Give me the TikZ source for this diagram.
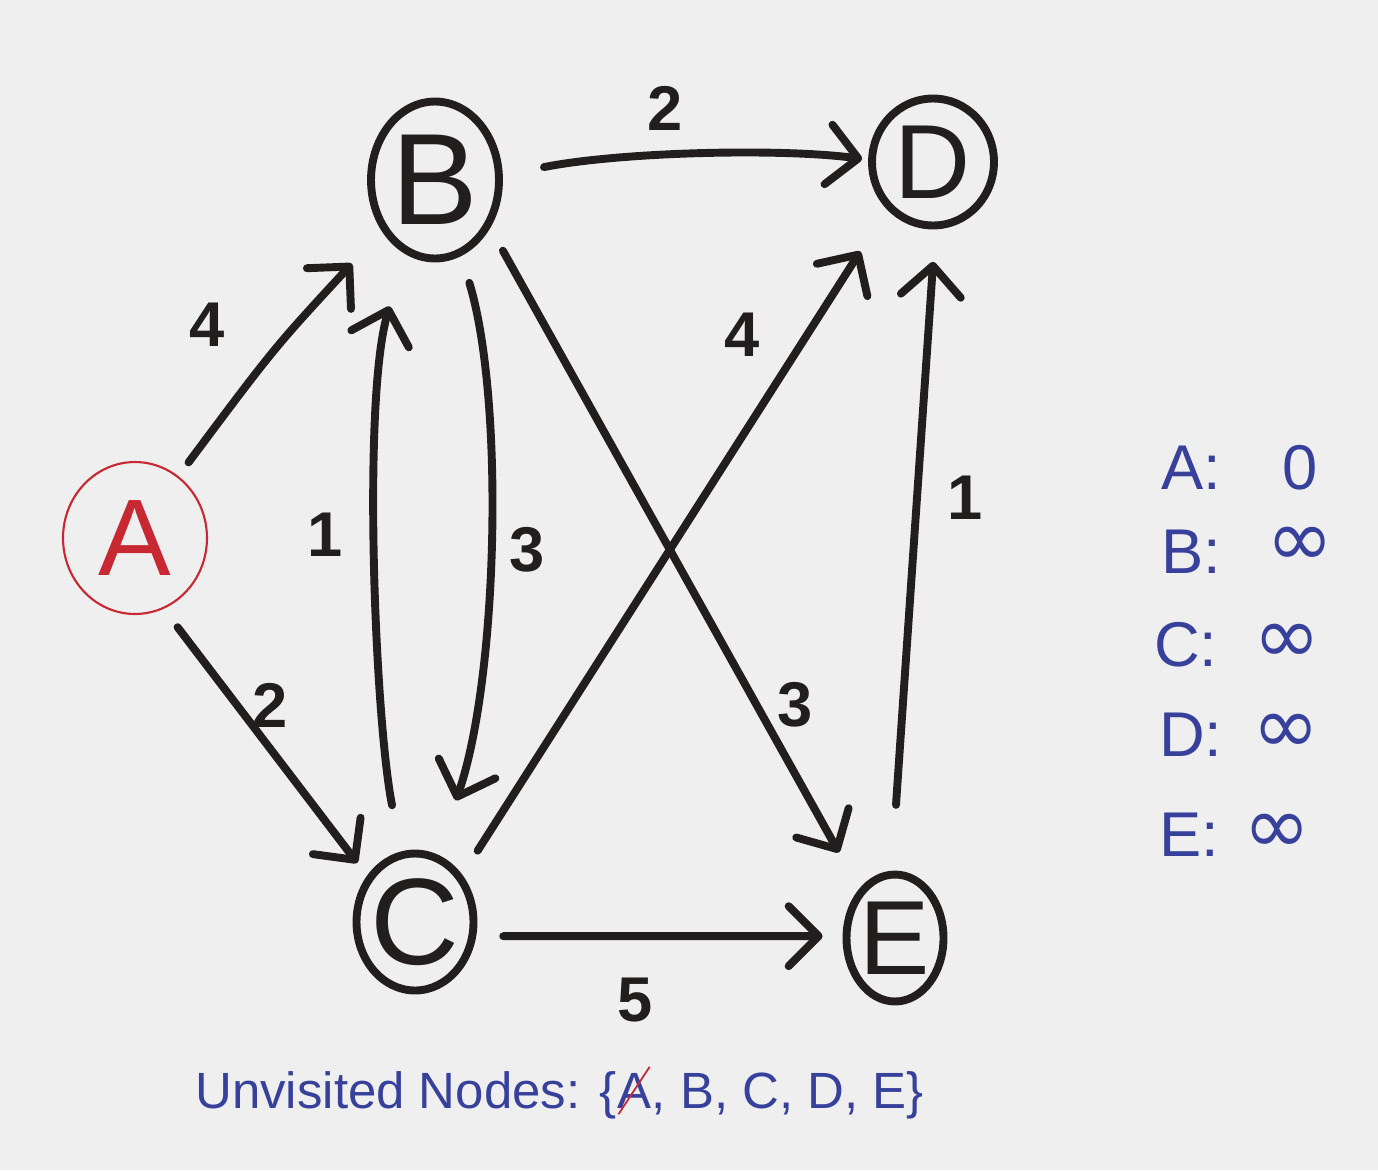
\documentclass[tikz,border=0pt]{standalone}
\usepackage{fontspec}
\setmainfont{Liberation Sans}
\newfontfamily\inffont{DejaVu Sans}
\usetikzlibrary{shapes.geometric,arrows.meta,positioning}
\definecolor{ink}{RGB}{35,30,30}
\definecolor{pen}{RGB}{55,65,155}
\definecolor{redpen}{RGB}{200,40,50}
\definecolor{paper}{RGB}{239,239,239}

\begin{document}
\begin{tikzpicture}[x=0.02cm, y=-0.02cm,
    vertex/.style 2 args={ellipse, draw=ink, line width=4.5pt, inner sep=0pt,
      label={[text=ink, font=\fontsize{#2}{#2}\selectfont]center:#1}},
    link/.style={ink, line width=4.5pt, line cap=round,
      -{Straight Barb[length=6mm, width=12mm, round]}},
    weight/.style={text=ink, font=\bfseries\fontsize{36}{36}\selectfont},
    dist/.style={text=pen, anchor=west, font=\fontsize{36}{36}\selectfont},
    infty/.style={text=pen, font=\inffont\fontsize{46}{46}\selectfont},
    note/.style={text=pen, inner xsep=0pt, font=\fontsize{29}{29}\selectfont}]
  \fill[paper] (0,0) rectangle (1378,1170);
  \useasboundingbox (0,0) rectangle (1378,1170);

  % graph
  \node[ellipse, draw=redpen, line width=1.2pt, minimum width=2.88cm, minimum height=3.04cm,
    label={[text=redpen, font=\fontsize{62}{62}\selectfont]center:A}] (A) at (135,538) {};
  \node[vertex={B}{74}, minimum width=2.56cm, minimum height=3.14cm] (B) at (435,180) {};
  \node[vertex={C}{70}, minimum width=2.34cm, minimum height=2.74cm] (C) at (415,922) {};
  \node[vertex={D}{60}, minimum width=2.44cm, minimum height=2.54cm] (D) at (933,162) {};
  \node[vertex={E}{60}, minimum width=1.94cm, minimum height=2.54cm] (E) at (895,938) {};

  \draw[link, shorten <=3.4mm, shorten >=8.8mm] (A.55) .. controls (274,348) .. (B.224);
  \draw[link, shorten <=4.6mm, shorten >=3.2mm] (A.292) -- (C.136);
  \draw[link, shorten <=9.4mm, shorten >=10.9mm] (C.101) .. controls (375,720) and (362,400) .. (B.248);
  \draw[link, shorten <=5.6mm, shorten >=11.4mm] (B.289) .. controls (505,400) and (498,680) .. (C.72);
  \draw[link, shorten <=5.2mm, shorten >=8.3mm] (B.319) -- (E.126);
  \draw[link, shorten <=5.7mm, shorten >=9.9mm] (C.45) -- (D.226);
  \draw[link, shorten <=8.4mm, shorten >=1.2mm] (B.4) .. controls (620,152) and (780,148) .. (D.178);
  \draw[link, shorten <=5.4mm, shorten >=4mm] (C.347) -- (E.178);
  \draw[link, shorten <=13.2mm, shorten >=6.5mm] (E.93) -- (D.272);

  % weights
  \node[weight] (wAB) at (207,325) {4};
  \node[weight] (wAC) at (270,705) {2};
  \node[weight] (wCB) at (325,535) {1};
  \node[weight] (wBC) at (527,550) {3};
  \node[weight] (wBE) at (795,705) {3};
  \node[weight] (wCD) at (742,335) {4};
  \node[weight] (wBD) at (665,108) {2};
  \node[weight] (wCE) at (635,1000) {5};
  \node[weight] (wED) at (965,498) {1};

  % distances
  \node[dist] (dA) at (1155,468) {A:};
  \node[dist] (dB) at (1155,552) {B:};
  \node[dist] (dC) at (1148,645) {C:};
  \node[dist] (dD) at (1153,735) {D:};
  \node[dist] (dE) at (1153,835) {E:};
  \node[text=pen, font=\fontsize{36}{36}\selectfont] (vA) at (1300,468) {0};
  \node[infty] (vB) at (1300,547) {∞};
  \node[infty] (vC) at (1287,644) {∞};
  \node[infty] (vD) at (1286,734) {∞};
  \node[infty] (vE) at (1277,834) {∞};

  % unvisited set
  \node[note, anchor=base west] (unv) at (195,1108) {Unvisited Nodes: \{};
  \node[note, base right=0pt of unv] (stA) {A};
  \node[note, base right=0pt of stA] (rest) {, B, C, D, E\}};
  \draw[redpen, line width=1pt] ([xshift=1pt]stA.south west) -- ([xshift=-1pt]stA.north east);
\end{tikzpicture}
\end{document}
